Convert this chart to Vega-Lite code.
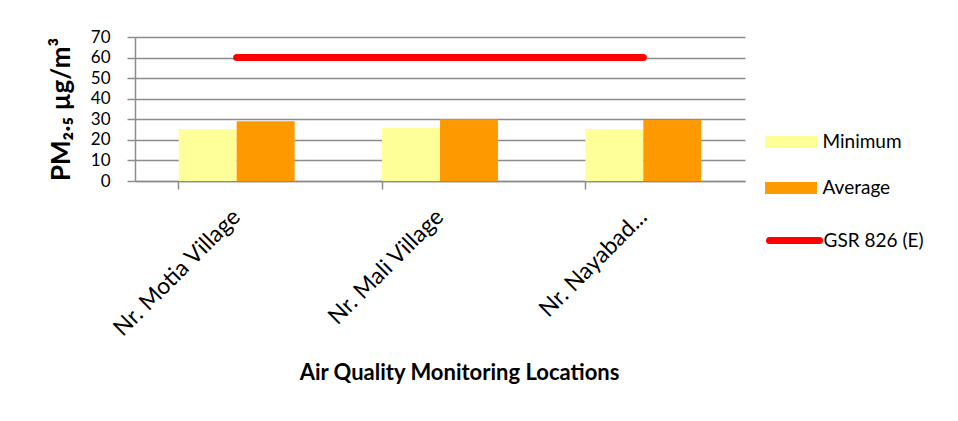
{
  "$schema": "https://vega.github.io/schema/vega-lite/v6.json",
  "width": 610,
  "height": 144,
  "autosize": "none",
  "padding": {"left": 135, "top": 37, "right": 213, "bottom": 240},
  "background": "white",
  "config": {"view": {"stroke": null}, "font": "Lato"},
  "data": {
    "values": [
      {"location": "Nr. Motia Village", "series": "Minimum", "value": 25.3},
      {"location": "Nr. Motia Village", "series": "Average", "value": 29.1},
      {"location": "Nr. Mali Village", "series": "Minimum", "value": 25.8},
      {"location": "Nr. Mali Village", "series": "Average", "value": 29.9},
      {"location": "Nr. Nayabad...", "series": "Minimum", "value": 25.3},
      {"location": "Nr. Nayabad...", "series": "Average", "value": 29.6},
      {"location": "Nr. Motia Village", "series": "GSR 826 (E)", "value": 60},
      {"location": "Nr. Mali Village", "series": "GSR 826 (E)", "value": 60},
      {"location": "Nr. Nayabad...", "series": "GSR 826 (E)", "value": 60}
    ]
  },
  "encoding": {
    "x": {
      "field": "location",
      "type": "nominal",
      "sort": null,
      "scale": {"paddingInner": 0.43, "paddingOuter": 0.215},
      "axis": {
        "title": "Air Quality Monitoring Locations",
        "titleFontSize": 22,
        "titleFontWeight": "bold",
        "titleColor": "black",
        "titlePadding": 22,
        "titleX": 324,
        "titleAlign": "center",
        "bandPosition": 0,
        "labelAngle": -45,
        "labelAlign": "right",
        "labelBaseline": "middle",
        "labelFontSize": 23,
        "labelColor": "black",
        "labelPadding": 24,
        "labelOverlap": false,
        "domainColor": "#8C8C8C",
        "domainWidth": 1.5,
        "tickColor": "#8C8C8C",
        "tickWidth": 1.5,
        "tickSize": 8,
        "grid": false
      }
    },
    "y": {
      "field": "value",
      "type": "quantitative",
      "scale": {"domain": [0, 70], "nice": false},
      "axis": {
        "title": "PM₂.₅ µg/m³",
        "titleFontSize": 26,
        "titleFontWeight": "bold",
        "titleColor": "black",
        "titlePadding": 16,
        "values": [0, 10, 20, 30, 40, 50, 60, 70],
        "labelOverlap": false,
        "labelFontSize": 17,
        "labelColor": "black",
        "labelPadding": 17,
        "tickSize": 8,
        "tickColor": "#8C8C8C",
        "tickWidth": 1.5,
        "domainColor": "#8C8C8C",
        "domainWidth": 1.5,
        "gridColor": "#8C8C8C",
        "gridWidth": 1.5
      }
    }
  },
  "layer": [
    {
      "transform": [{"filter": "datum.series !== 'GSR 826 (E)'"}],
      "mark": {"type": "bar"},
      "encoding": {
        "xOffset": {"field": "series", "type": "nominal", "sort": ["Minimum", "Average"], "scale": {"paddingInner": 0, "paddingOuter": 0}},
        "fill": {
          "field": "series",
          "type": "nominal",
          "scale": {"domain": ["Minimum", "Average"], "range": ["#FFFF99", "#FF9900"]},
          "legend": {
            "title": null,
            "orient": "none",
            "legendX": 646,
            "legendY": 95,
            "symbolType": "M-2.6,-0.6H2.6V0.6H-2.6Z",
            "symbolSize": 400,
            "symbolStrokeWidth": 0,
            "labelFontSize": 19,
            "labelColor": "black",
            "labelOffset": 21.5,
            "rowPadding": 26
          }
        }
      }
    },
    {
      "transform": [{"filter": "datum.series === 'GSR 826 (E)'"}],
      "mark": {"type": "line", "strokeWidth": 7, "strokeCap": "round"},
      "encoding": {
        "stroke": {
          "field": "series",
          "type": "nominal",
          "scale": {"domain": ["GSR 826 (E)"], "range": ["#FF0000"]},
          "legend": {
            "title": null,
            "orient": "none",
            "legendX": 646,
            "legendY": 190,
            "symbolType": "M-2.5,0H2.5",
            "symbolSize": 400,
            "symbolStrokeWidth": 7,
            "labelFontSize": 19,
            "labelColor": "black",
            "labelOffset": 15.5,
            "encode": {"symbols": {"update": {"strokeCap": {"value": "round"}}}}
          }
        }
      }
    }
  ]
}
